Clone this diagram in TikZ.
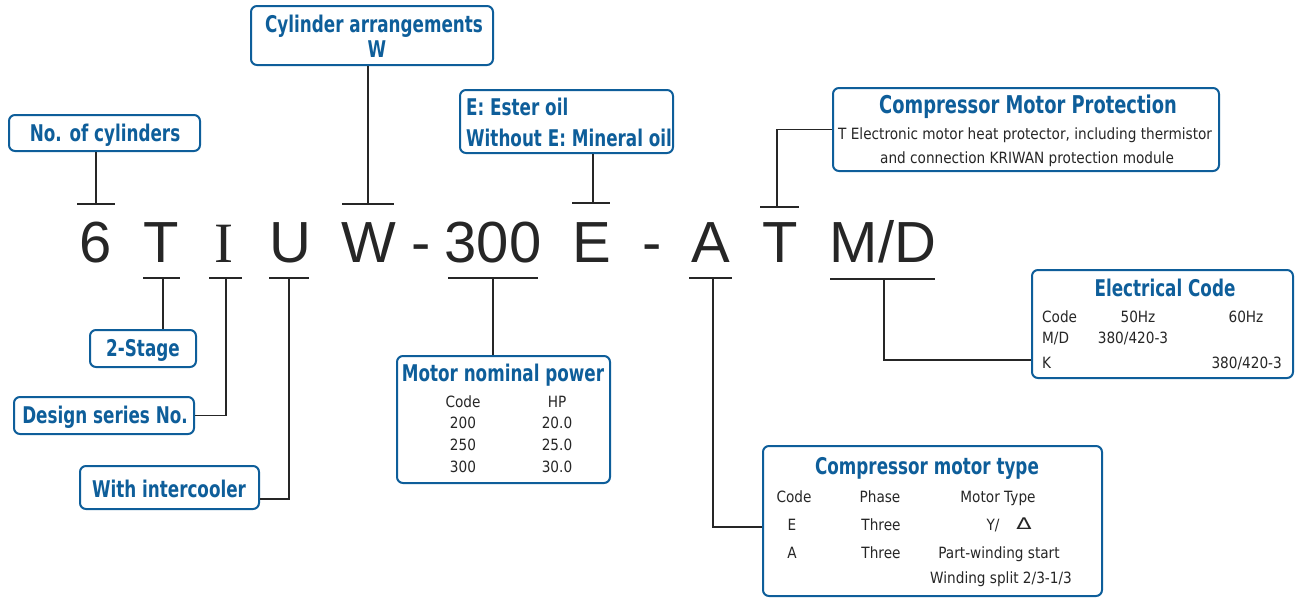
\documentclass[tikz,border=0pt]{standalone}
\usepackage{fontspec}
\usepackage{tikz}
\usetikzlibrary{positioning,calc}

\newfontfamily\codefont{Liberation Sans}
\newfontfamily\codeserif{Liberation Serif}
\newfontfamily\titlefont[FakeStretch=0.73]{DejaVu Sans Bold}
\newfontfamily\boxfont[FakeStretch=0.88]{DejaVu Sans}
\newfontfamily\deltafont[FakeStretch=1.4]{DejaVu Sans}
\definecolor{codeblue}{HTML}{0E5E9A}
\definecolor{leadgray}{HTML}{262626}

\begin{document}
\begin{tikzpicture}[
    x=1pt, y=-1pt,
    codebox/.style = {draw=codeblue, line width=2pt, rounded corners=6pt, fill=white, inner sep=0pt},
    ttl/.style = {font=\titlefont\fontsize{23}{26}\selectfont, text=codeblue, anchor=base, inner sep=0pt},
    cell/.style = {font=\boxfont\fontsize{15.5}{18}\selectfont, text=leadgray, anchor=base, inner sep=0pt},
    letter/.style = {font=\codefont\fontsize{58}{60}\selectfont, text=leadgray, anchor=base, inner sep=0pt},
    lead/.style = {draw=leadgray, line width=1.5pt}
]
    \useasboundingbox (0,0) rectangle (1297,597);

    % 1. Type code
    \node [letter] (c6)   at (96,262)  {6};
    \node [letter] (cT)   at (161,262) {T};
    \node [letter, font=\codeserif\fontsize{57}{60}\selectfont] (cI) at (224,262) {I};
    \node [letter] (cU)   at (290,262) {U};
    \node [letter] (cW)   at (369,262) {W};
    \node [letter] (dsh1) at (421,262) {-};
    \node [letter] (c300) at (493,262) {300};
    \node [letter] (cE)   at (592,262) {E};
    \node [letter] (dsh2) at (652,262) {-};
    \node [letter] (cA)   at (711,262) {A};
    \node [letter] (cT2)  at (780,262) {T};
    \node [letter] (cMD)  at (883,262) {M/D};

    % 2. Label boxes above
    \node [codebox, minimum width=191, minimum height=36] (nocyl) at (104.5,133) {};
    \node [ttl] (nocyl_t) at (105,141) {No. of cylinders};

    \node [codebox, minimum width=242, minimum height=59] (cylarr) at (372,35.5) {};
    \node [ttl] (cylarr_t) at (374,32) {Cylinder arrangements};
    \node [ttl] (cylarr_w) at (377,57) {W};

    \node [codebox, minimum width=213, minimum height=63] (oil) at (566.5,121.5) {};
    \node [ttl, anchor=base west] (oil_a) at (466,115) {E: Ester oil};
    \node [ttl, anchor=base west] (oil_b) at (466,146) {Without E: Mineral oil};

    \node [codebox, minimum width=386, minimum height=83] (protect) at (1026,129.5) {};
    \node [ttl, font=\titlefont\fontsize{24.5}{26}\selectfont] (protect_t) at (1028,113) {Compressor Motor Protection};
    \node [cell, anchor=base west] (protect_a) at (838,139) {T Electronic motor heat protector, including thermistor};
    \node [cell] (protect_b) at (1027,163) {and connection KRIWAN protection module};

    % 3. Label boxes below
    \node [codebox, minimum width=106, minimum height=37] (stage) at (143,348.5) {};
    \node [ttl] (stage_t) at (143,356) {2-Stage};

    \node [codebox, minimum width=180, minimum height=37] (design) at (104,415.5) {};
    \node [ttl] (design_t) at (105,423) {Design series No.};

    \node [codebox, minimum width=179, minimum height=43] (inter) at (169.5,487.5) {};
    \node [ttl] (inter_t) at (169,497) {With intercooler};

    \node [codebox, minimum width=213, minimum height=127] (power) at (503.5,419.5) {};
    \node [ttl] (power_t) at (503,381) {Motor nominal power};
    \node [cell] at (463,407) {Code};
    \node [cell] at (557,407) {HP};
    \node [cell] at (463,428) {200};
    \node [cell] at (557,428) {20.0};
    \node [cell] at (463,450) {250};
    \node [cell] at (557,450) {25.0};
    \node [cell] at (463,472) {300};
    \node [cell] at (557,472) {30.0};

    \node [codebox, minimum width=261, minimum height=108] (elec) at (1162.5,324) {};
    \node [ttl] (elec_t) at (1165,296) {Electrical Code};
    \node [cell, anchor=base west] at (1042,322) {Code};
    \node [cell] at (1138,322) {50Hz};
    \node [cell] at (1246,322) {60Hz};
    \node [cell, anchor=base west] at (1042,343) {M/D};
    \node [cell] at (1133,343) {380/420-3};
    \node [cell, anchor=base west] at (1042,368) {K};
    \node [cell, anchor=base east] at (1282,368) {380/420-3};

    \node [codebox, minimum width=339, minimum height=150] (mtype) at (932.5,521) {};
    \node [ttl] (mtype_t) at (927,474) {Compressor motor type};
    \node [cell] at (794,502) {Code};
    \node [cell] at (880,502) {Phase};
    \node [cell] at (998,502) {Motor Type};
    \node [cell] at (792,530) {E};
    \node [cell] at (881,530) {Three};
    \node [cell] at (993,530) {Y/};
    \node [cell, font=\deltafont\fontsize{16}{18}\selectfont] at (1024,529) {Δ};
    \node [cell] at (792,558) {A};
    \node [cell] at (881,558) {Three};
    \node [cell] at (999,558) {Part-winding start};
    \node [cell] at (1001,583) {Winding split 2/3-1/3};

    % 4. Tick bars
    \coordinate (t6)   at (96,204);
    \coordinate (tW)   at (368,204);
    \coordinate (tE)   at (593,203);
    \coordinate (tT2)  at (777,207);
    \coordinate (bT)   at (163,278);
    \coordinate (bI)   at (226,278);
    \coordinate (bU)   at (289,278);
    \coordinate (b300) at (493,278);
    \coordinate (bA)   at (713,278);
    \coordinate (bMD)  at (884,279);

    \draw [lead] ([xshift=-19]t6) -- ([xshift=19]t6);
    \draw [lead] ([xshift=-26]tW) -- ([xshift=26]tW);
    \draw [lead] ([xshift=-21]tE) -- ([xshift=17]tE);
    \draw [lead] ([xshift=-17]tT2) -- ([xshift=22]tT2);
    \draw [lead] ([xshift=-20]bT) -- ([xshift=17]bT);
    \draw [lead] ([xshift=-17]bI) -- ([xshift=16]bI);
    \draw [lead] ([xshift=-20]bU) -- ([xshift=20]bU);
    \draw [lead] ([xshift=-45]b300) -- ([xshift=45]b300);
    \draw [lead] ([xshift=-24]bA) -- ([xshift=19]bA);
    \draw [lead] ([xshift=-54]bMD) -- ([xshift=51]bMD);

    % 5. Connections
    \draw [lead] (nocyl.south -| t6) -- (t6);
    \draw [lead] (cylarr.south -| tW) -- (tW);
    \draw [lead] (oil.south -| tE) -- (tE);
    \draw [lead] (protect.west) -| (tT2);
    \draw [lead] (bT) -- (bT |- stage.north);
    \draw [lead] (bI) |- (design.east);
    \draw [lead] (bU) |- ([yshift=-11.5]inter.east);
    \draw [lead] (b300) -- (b300 |- power.north);
    \draw [lead] (bA) |- ([yshift=-6]mtype.west);
    \draw [lead] (bMD) |- ([yshift=-36]elec.west);

\end{tikzpicture}
\end{document}
